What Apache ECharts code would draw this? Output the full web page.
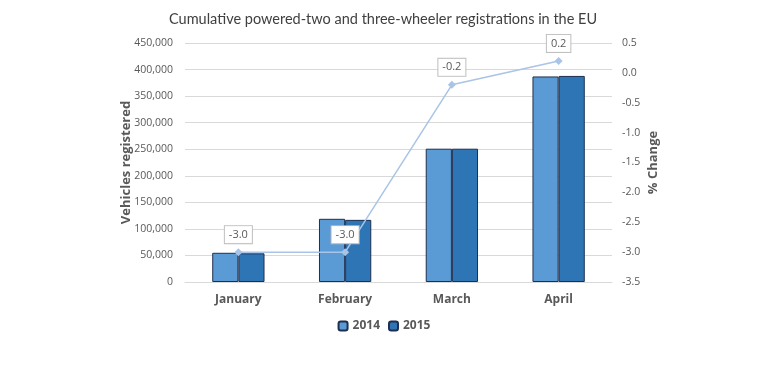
<!DOCTYPE html>
<html><head><meta charset="utf-8">
<script src="https://cdn.jsdelivr.net/npm/echarts@6/dist/echarts.min.js"></script>
<style>html,body{margin:0;padding:0;background:#fff}#c{width:768px;height:385px}</style>
</head><body><div id="c"></div>
<script>
var categories = ['January', 'February', 'March', 'April'];
var series2014 = [55000, 119000, 251000, 387000];
var series2015 = [54000, 117000, 251000, 388000];
var pctChange = [-3.0, -3.0, -0.2, 0.2];
var leftTicks = {min: 0, max: 450000, interval: 50000};
var rightTicks = {min: -3.5, max: 0.5, interval: 0.5};

var font = 'Open Sans';
var chart = echarts.init(document.getElementById('c'));
chart.setOption({
  animation: false,
  textStyle: {fontFamily: font},
  title: {text: 'Cumulative powered-two and three-wheeler registrations in the EU', left: 164, top: 7,
    textStyle: {fontFamily: 'Lato', fontSize: 14.5, fontWeight: 'normal', color: '#404040'}},
  legend: {bottom: 48, left: 'center', itemWidth: 9, itemHeight: 9, itemGap: 8,
    data: ['2014', '2015'],
    textStyle: {fontFamily: font, fontSize: 12, fontWeight: 'bold', color: '#595959'}},
  grid: {left: 185, right: 156, top: 43, bottom: 103},
  xAxis: {type: 'category', data: categories,
    axisLine: {lineStyle: {color: '#d9d9d9'}}, axisTick: {show: false},
    axisLabel: {fontFamily: font, fontSize: 12, fontWeight: 'bold', color: '#595959', margin: 12}},
  yAxis: [
    {type: 'value', min: leftTicks.min, max: leftTicks.max, interval: leftTicks.interval,
     name: 'Vehicles registered', nameLocation: 'middle', nameGap: 52, nameRotate: 90,
     nameMoveOverlap: false,
     nameTextStyle: {fontFamily: font, fontSize: 13, fontWeight: 'bold', color: '#595959'},
     axisLine: {show: false}, axisTick: {show: false},
     axisLabel: {fontFamily: font, fontSize: 10.5, color: '#595959', margin: 12,
       formatter: function (v) { return v.toLocaleString('en-US'); }},
     splitLine: {lineStyle: {color: '#d9d9d9'}}},
    {type: 'value', min: rightTicks.min, max: rightTicks.max, interval: rightTicks.interval,
     name: '% Change', nameLocation: 'middle', nameGap: 35, nameRotate: 90,
     nameMoveOverlap: false,
     nameTextStyle: {fontFamily: font, fontSize: 13, fontWeight: 'bold', color: '#595959'},
     axisLine: {show: false}, axisTick: {show: false}, splitLine: {show: false},
     axisLabel: {fontFamily: font, fontSize: 10.5, color: '#595959', margin: 10,
       formatter: function (v) { return v.toFixed(1); }}}
  ],
  series: [
    {name: '2014', type: 'bar', data: series2014, barGap: '0%', barCategoryGap: '51%',
     itemStyle: {color: '#5b9bd5', borderColor: '#1f2f4f', borderWidth: 1}},
    {name: '2015', type: 'bar', data: series2015,
     itemStyle: {color: '#2e75b6', borderColor: '#1f2f4f', borderWidth: 1}},
    {name: '% Change', type: 'line', yAxisIndex: 1, data: pctChange,
     symbol: 'diamond', symbolSize: 8,
     lineStyle: {color: '#a9c4e6', width: 1.5}, itemStyle: {color: '#a9c4e6'},
     label: {show: true, position: 'top', distance: 5, formatter: function (p) { return p.value.toFixed(1); },
       fontFamily: font, fontSize: 11, color: '#595959', backgroundColor: '#fff',
       borderColor: '#bfbfbf', borderWidth: 1, padding: [3, 4]}}
  ]
});
</script></body></html>
